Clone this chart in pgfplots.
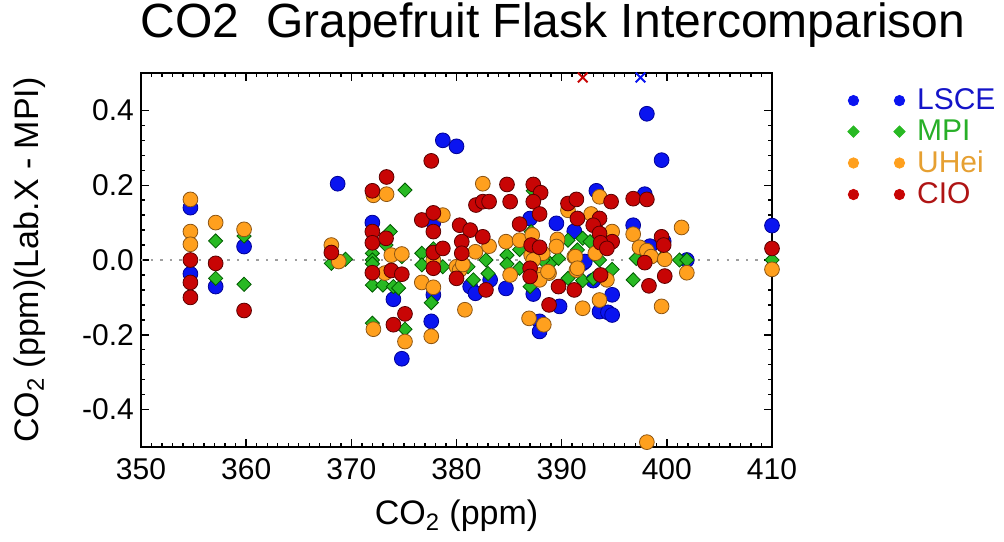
\documentclass[border=0pt]{standalone}
\usepackage{pgfplots}
\pgfplotsset{compat=1.18}
\usepackage{fontspec}
\setmainfont{Liberation Sans}
\definecolor{lsceFill}{RGB}{10,20,240}
\definecolor{lsceLine}{RGB}{0,0,150}
\definecolor{lsceText}{RGB}{20,20,200}
\definecolor{mpiFill}{RGB}{40,185,35}
\definecolor{mpiLine}{RGB}{0,90,0}
\definecolor{mpiText}{RGB}{40,175,40}
\definecolor{uheiFill}{RGB}{255,160,30}
\definecolor{uheiLine}{RGB}{140,85,20}
\definecolor{uheiText}{RGB}{230,160,50}
\definecolor{cioFill}{RGB}{200,5,5}
\definecolor{cioLine}{RGB}{90,0,0}
\definecolor{cioText}{RGB}{175,20,20}
\begin{document}
\begin{tikzpicture}
\useasboundingbox (-70.5pt,-47pt) rectangle (431.5pt,223.5pt);
\begin{axis}[
  at={(0pt,0pt)}, anchor=south west,
  scale only axis, width=315.5pt, height=187pt,
  xmin=350, xmax=410, ymin=-0.5, ymax=0.5,
  xtick={350,360,370,380,390,400,410},
  xticklabels={350,360,370,380,390,400,410},
  ytick={-0.4,-0.2,0,0.2,0.4},
  yticklabels={-0.4,-0.2,0.0,0.2,0.4},
  minor x tick num=9, minor y tick num=4,
  tick align=inside, tick pos=both, ticklabel pos=left,
  major tick length=4pt, minor tick length=2pt,
  every tick/.style={black, line width=0.7pt},
  axis line style={line width=1pt},
  tick label style={font=\fontsize{15}{18}\selectfont},
  xticklabel style={yshift=-2pt},
  /pgf/number format/assume math mode=true,
  xlabel={CO\textsubscript{2} (ppm)},
  ylabel={CO\textsubscript{2} (ppm)(Lab.X - MPI)},
  label style={font=\fontsize{17}{20}\selectfont},
  xlabel style={at={(axis description cs:0.5,-0.185)}, anchor=center},
  ylabel style={at={(axis description cs:-0.176,0.5)}, anchor=center},
  title={CO2\ \ Grapefruit Flask Intercomparison},
  title style={at={(axis description cs:0.653,1.064)}, anchor=base, font=\fontsize{24}{28}\selectfont},
  legend image code/.code={\draw[mark repeat=1,#1] plot coordinates {(0pt,0pt) (23pt,0pt)};},
  legend style={draw=none, fill=none, at={(axis description cs:1.11,0.978)}, anchor=north west,
    font=\fontsize{15}{18}\selectfont, row sep=0.6pt, column sep=4.5pt, nodes={inner sep=1.5pt}},
  legend cell align=left,
]
\addlegendimage{only marks, mark=*, mark size=2.6pt, draw=lsceFill, fill=lsceFill}
\addlegendentry{\textcolor{lsceText}{LSCE}}
\addlegendimage{only marks, mark=square*, mark size=2pt, mark options={rotate=45}, draw=mpiFill, fill=mpiFill}
\addlegendentry{\textcolor{mpiText}{MPI}}
\addlegendimage{only marks, mark=*, mark size=2.6pt, draw=uheiFill, fill=uheiFill}
\addlegendentry{\textcolor{uheiText}{UHei}}
\addlegendimage{only marks, mark=*, mark size=2.6pt, draw=cioFill, fill=cioFill}
\addlegendentry{\textcolor{cioText}{CIO}}

\addplot[forget plot, gray!75, line width=1pt, dash pattern=on 1.2pt off 3.6pt] coordinates {(350,0) (410,0)};

% LSCE
\addplot[forget plot, only marks, mark=*, mark size=3.7pt, mark options={fill=lsceFill, draw=lsceLine, line width=0.4pt}] coordinates {
(354.7,0.140) (354.7,-0.037) (357.1,-0.071) (359.8,0.036) (368.7,0.204)
(372.0,0.100) (374.0,-0.105) (374.8,-0.264) (377.8,-0.093) (377.6,-0.164) (377.8,0.100)
(378.7,0.320) (380.0,0.304) (381.3,-0.071) (381.8,-0.089) (383.2,-0.053)
(384.7,-0.076) (387.0,0.111) (387.3,-0.091) (389.5,0.098) (389.8,-0.124) (387.9,-0.164) (387.9,-0.191)
(391.2,0.077) (392.0,-0.009) (392.2,-0.004) (393.0,-0.055) (393.3,0.185) (393.6,-0.138) (394.4,-0.140) (394.8,-0.147) (394.8,-0.093)
(396.8,0.093) (397.9,0.176) (398.1,0.391) (398.4,0.037) (399.5,0.267) (399.7,0.050) (401.9,0.000) (410.0,0.092)
};
\addplot[forget plot, only marks, mark=x, mark size=3.4pt, mark options={draw=lsceFill, line width=1pt}] coordinates {(397.5,0.488)};
% MPI
\addplot[forget plot, only marks, mark=square*, mark size=2.5pt, mark options={rotate=45, fill=mpiFill, draw=mpiLine, line width=0.4pt}] coordinates {
(357.1,0.051) (357.1,-0.049) (359.8,0.064) (359.8,-0.065)
(368.1,-0.009) (369.45,0.002)
(372.0,0.018) (372.0,0.000) (372.0,-0.010) (372.0,-0.067) (372.0,-0.169)
(373.7,0.076) (373.3,0.040) (373.0,-0.067) (374.0,-0.071) (374.5,-0.075) (375.1,0.187) (375.1,-0.185) (374.8,0.009)
(376.7,0.018) (376.7,-0.013) (377.6,-0.114) (378.7,-0.018) (377.8,0.030)
(381.1,-0.018) (381.6,-0.053) (382.8,0.000) (383.0,-0.036)
(384.8,0.013) (384.8,-0.011) (386.0,-0.022) (386.0,0.028) (387.1,0.076) (387.0,-0.071) (388.9,-0.009) (389.7,0.004)
(390.6,0.053) (391.5,0.027) (390.6,-0.049) (392.0,-0.055) (393.0,-0.050) (392.0,0.058) (392.7,0.049) (393.6,0.000) (394.8,-0.025)
(396.8,-0.053) (397.1,0.004) (399.5,0.004) (401.2,0.000) (401.9,0.000) (410.0,0.000)
(387.3,0.185) (388.2,0.000)
};
% UHei
\addplot[forget plot, only marks, mark=*, mark size=3.7pt, mark options={fill=uheiFill, draw=uheiLine, line width=0.4pt}] coordinates {
(354.7,0.162) (354.7,0.076) (354.7,0.042) (357.1,0.100) (359.8,0.082)
(368.1,0.040) (368.8,-0.004)
(372.1,0.173) (373.35,0.176) (373.8,0.013) (374.8,0.016) (372.1,-0.185) (375.1,-0.218) (373.2,-0.035)
(378.7,0.120) (376.7,-0.060) (377.8,-0.073) (377.6,-0.204) (377.8,0.000)
(380.0,-0.018) (380.3,-0.027) (380.6,-0.012) (381.8,0.022) (383.1,0.037) (382.5,0.204) (380.8,-0.133)
(384.7,0.049) (386.0,0.053) (385.1,-0.040)
(387.1,0.013) (388.2,0.018) (387.9,-0.040) (388.8,-0.035) (387.9,-0.053) (387.2,0.067) (387.3,0.000) (388.7,-0.031)
(389.6,0.055) (389.5,0.036) (386.9,-0.156) (388.3,-0.173)
(391.2,0.009) (391.4,-0.027) (390.6,0.133) (392.0,-0.129) (393.6,-0.107)
(392.8,0.123) (393.6,0.169) (393.2,0.018) (391.3,0.009) (391.5,-0.022) (394.3,-0.053) (394.8,0.076)
(396.8,0.069) (397.4,0.034) (398.1,0.025) (398.5,0.009) (399.8,0.002) (399.5,-0.124) (401.4,0.087) (401.9,-0.034) (398.1,-0.487) (410.0,-0.025)
};
% CIO
\addplot[forget plot, only marks, mark=*, mark size=3.7pt, mark options={fill=cioFill, draw=cioLine, line width=0.4pt}] coordinates {
(354.7,0.000) (354.7,-0.060) (354.7,-0.100) (357.1,-0.009) (359.8,-0.135)
(368.1,0.020)
(372.0,0.185) (373.35,0.222) (372.0,0.076) (372.0,0.046) (373.3,0.058) (372.0,-0.034) (373.8,-0.028) (374.8,-0.038) (374.0,-0.173) (375.1,-0.144)
(377.6,0.265) (376.7,0.107) (377.8,0.126) (377.8,0.076) (377.8,0.020) (378.7,0.031) (377.8,-0.022)
(380.3,0.093) (381.3,0.080) (380.5,0.049) (382.5,0.062) (380.5,0.018) (380.0,-0.049) (382.8,-0.080) (381.85,0.147) (382.5,0.156)
(383.1,0.156) (384.8,0.202) (385.1,0.156) (386.0,0.096)
(387.3,0.202) (388.0,0.180) (387.3,0.156) (387.9,0.123) (387.1,0.040) (387.9,0.034) (387.0,-0.022) (387.0,-0.044) (389.7,-0.071) (388.8,-0.120)
(390.6,0.151) (391.4,0.162) (391.5,0.111) (391.2,-0.080)
(394.7,0.156) (393.6,0.111) (393.0,0.093) (394.8,0.049) (393.6,0.071) (393.7,0.046) (394.3,0.031) (393.7,-0.040)
(396.8,0.164) (398.1,0.162) (397.9,-0.007) (399.5,0.062) (399.7,0.040) (399.8,-0.043) (398.3,-0.069) (410.0,0.031)
};
\addplot[forget plot, only marks, mark=x, mark size=3.4pt, mark options={draw=cioFill, line width=1pt}] coordinates {(392.0,0.488)};
\end{axis}
\end{tikzpicture}
\end{document}
